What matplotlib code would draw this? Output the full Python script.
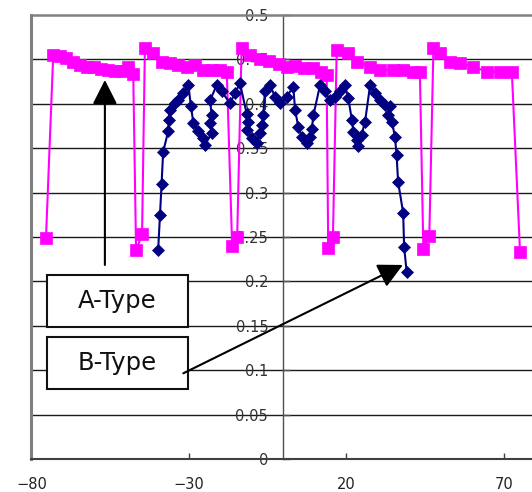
import matplotlib
matplotlib.use('Agg')
import matplotlib.pyplot as plt
from matplotlib.patches import Rectangle

# A-Type (magenta squares)
a_x = [-75.4,
       -73.1, -71.0, -69.0, -66.8, -64.6, -62.4, -60.2, -57.9, -55.7, -53.5, -51.4, -49.3, -47.7,
       -46.8, -44.9,
       -44.0, -41.3, -38.7, -36.0, -33.4, -30.7, -28.1, -25.5, -22.8, -20.2, -18.0,
       -16.3, -14.7,
       -13.3, -10.5, -7.5, -4.5, -1.5, 1.0, 3.5, 6.5, 9.5, 12.0, 13.7,
       14.2, 15.7,
       16.9, 20.6, 23.3, 27.5, 30.6, 34.8, 38.0, 41.1, 43.3,
       44.4, 46.3,
       47.6, 49.7, 52.9, 56.0, 60.2, 64.6, 68.7, 72.5,
       75.1]
a_y = [0.249,
       0.455, 0.454, 0.452, 0.447, 0.444, 0.442, 0.441, 0.439, 0.438, 0.437, 0.437, 0.442, 0.434,
       0.235, 0.253,
       0.4625, 0.457, 0.447, 0.4455, 0.4437, 0.442, 0.4437, 0.438, 0.438, 0.438, 0.436,
       0.240, 0.250,
       0.4625, 0.455, 0.450, 0.448, 0.445, 0.442, 0.443, 0.440, 0.440, 0.436, 0.432,
       0.238, 0.250,
       0.4605, 0.457, 0.447, 0.442, 0.438, 0.438, 0.438, 0.436, 0.436,
       0.237, 0.251,
       0.4625, 0.457, 0.447, 0.4455, 0.442, 0.436, 0.436, 0.436,
       0.233]

# B-Type (navy diamonds)
b_x = [-39.8, -39.2, -38.7, -38.2, -36.6, -36.4, -36.0, -34.4, -33.4, -31.8, -30.2,
       -29.4, -28.6, -27.0, -25.5, -24.9, -22.8, -23.3, -22.8, -23.3, -21.2,
       -19.6, -17.0, -15.4, -13.8,
       -11.7, -11.2, -11.7, -10.1, -8.5, -7.5, -6.9, -6.4, -5.9, -4.3,
       -2.7, -1.1, 1.0, 3.1,
       3.7, 4.7, 5.8, 7.4, 8.4, 9.0, 9.5, 11.6,
       13.2, 14.8, 16.3, 17.9, 19.5,
       20.6, 21.7, 22.2, 23.2, 23.7, 24.8, 25.9, 27.5,
       29.0, 30.6, 32.2, 33.8, 33.3, 34.4, 35.4, 35.9, 36.4, 38.0, 38.3, 39.1]
b_y = [0.235, 0.275, 0.310, 0.346, 0.369, 0.382, 0.393, 0.4005, 0.404, 0.412, 0.421,
       0.398, 0.378, 0.369, 0.361, 0.354, 0.367, 0.378, 0.387, 0.404, 0.421,
       0.414, 0.4005, 0.412, 0.423,
       0.389, 0.380, 0.370, 0.361, 0.3555, 0.367, 0.376, 0.387, 0.414, 0.421,
       0.408, 0.4005, 0.408, 0.419,
       0.393, 0.374, 0.363, 0.3555, 0.363, 0.372, 0.387, 0.421,
       0.414, 0.404, 0.408, 0.414, 0.421,
       0.406, 0.382, 0.3686, 0.359, 0.352, 0.365, 0.380, 0.421,
       0.412, 0.404, 0.3986, 0.397, 0.387, 0.380, 0.363, 0.342, 0.312, 0.277, 0.239, 0.211]

x_ticks = [-80, -30, 20, 70]
y_ticks = [0, 0.05, 0.1, 0.15, 0.2, 0.25, 0.3, 0.35, 0.4, 0.45, 0.5]
y_labels = ['0', '0.05', '0.1', '0.15', '0.2', '0.25', '0.3', '0.35', '0.4', '0.45', '0.5']

fig = plt.figure(figsize=(5.32, 4.92), dpi=100)
ax = fig.add_axes([0.0592, 0.0671, 0.9408, 0.9024])
ax.set_xlim(-80, 78.9)
ax.set_ylim(0, 0.5)

# grid
for yv in y_ticks[1:-1]:
    ax.axhline(yv, color='#1a1a1a', lw=1.0, zorder=1)

# frame
ax.spines['right'].set_visible(False)
ax.spines['top'].set_color('#808080')
ax.spines['top'].set_linewidth(1.8)
ax.spines['bottom'].set_color('#404040')
ax.spines['bottom'].set_linewidth(1.5)
ax.spines['left'].set_position(('data', 0))
ax.spines['left'].set_color('#505050')
ax.spines['left'].set_linewidth(1.0)
ax.axvline(-80, color='#808080', lw=2.2, zorder=2, clip_on=False)

ax.set_yticks(y_ticks)
ax.set_yticklabels(y_labels)
ax.set_xticks(x_ticks)
ax.tick_params(axis='y', direction='in', length=5, width=1, color='#505050',
               pad=11, labelsize=10.5, labelcolor='#333333')
ax.tick_params(axis='x', direction='in', length=4.5, width=1, color='#404040',
               pad=13, labelsize=10.5, labelcolor='#222222')
for lbl in ax.get_yticklabels():
    lbl.set_zorder(0.5)

# series
ax.plot(a_x, a_y, color='#ff00ff', lw=1.5, marker='s', ms=8.5, mew=0.5,
        mec='#ff00ff', zorder=3)
ax.plot(b_x, b_y, color='#000080', lw=1.5, marker='D', ms=6.4, mew=0.5,
        mec='#000080', zorder=4)

# labels
for (y0, h, txt) in [(0.1483, 0.0589, 'A-Type'), (0.0785, 0.0585, 'B-Type')]:
    ax.add_patch(Rectangle((-75.2, y0), 45.0, h, facecolor='white',
                           edgecolor='#111111', lw=1.5, zorder=5))
    ax.text(-52.7, y0 + h / 2, txt, ha='center', va='center', fontsize=17.5,
            color='#111111', zorder=6)

arrow = dict(arrowstyle='-|>,head_length=0.75,head_width=0.38',
             color='black', lw=1.5, mutation_scale=20, shrinkA=0, shrinkB=0)
ax.annotate('', xy=(-56.7, 0.4268), xytext=(-56.7, 0.2185), arrowprops=arrow, zorder=7)
ax.annotate('', xy=(37.9, 0.2185), xytext=(-31.8, 0.0965), arrowprops=arrow, zorder=7)

plt.savefig('out.png', dpi=100)
